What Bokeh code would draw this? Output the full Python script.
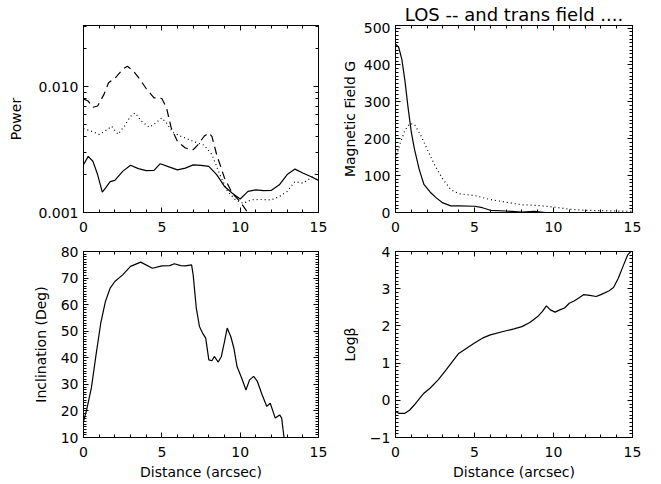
from bokeh.plotting import figure
from bokeh.models import (LinearAxis, LogAxis, FixedTicker,
                          CustomJSTickFormatter, Range1d)
from bokeh.layouts import column, row
from bokeh.embed import file_html
from bokeh.resources import INLINE

# ---------------- data ----------------
# Top-left: Power (log)
pw_solid_x = [0, 0.3, 0.6, 0.9, 1.2, 1.4, 1.7, 2.0, 2.5, 3.0, 3.5, 4.0, 4.5, 4.9, 5.5, 6.0, 6.5, 7.0,
              7.5, 8.0, 8.5, 9.0, 9.5, 10.0, 10.5, 11.0, 11.5, 12.0, 12.5, 13.0, 13.5, 14.0, 14.5, 15.0]
pw_solid_y = [0.00239, 0.00279, 0.00255, 0.0020, 0.00145, 0.00156, 0.00176, 0.0018, 0.00212, 0.00237,
              0.00223, 0.00215, 0.00216, 0.00244, 0.00229, 0.00218, 0.00225, 0.00239, 0.00237, 0.00232,
              0.0020, 0.00161, 0.00142, 0.00128, 0.00147, 0.00151, 0.00149, 0.0015, 0.00166, 0.0020,
              0.00221, 0.00206, 0.00193, 0.0018]
pw_dash_x = [0, 0.3, 0.6, 0.9, 1.3, 1.6, 2.0, 2.5, 2.8, 3.2, 3.6, 4.0, 4.5, 5.0, 5.3, 5.6, 6.0, 6.5,
             7.0, 7.3, 7.7, 8.0, 8.2, 8.5, 9.0, 9.5, 10.0, 10.5, 10.8]
pw_dash_y = [0.00798, 0.00767, 0.00684, 0.0070, 0.00862, 0.0107, 0.0116, 0.0137, 0.0145, 0.0132, 0.0114,
             0.00964, 0.00813, 0.00803, 0.00677, 0.00469, 0.00367, 0.00325, 0.00315, 0.00344, 0.00403,
             0.00428, 0.0040, 0.00288, 0.00188, 0.00142, 0.00122, 0.00099, 0.0008]
pw_dot_x = [0, 0.5, 1.0, 1.5, 1.8, 2.2, 2.6, 3.0, 3.3, 3.7, 4.2, 4.6, 5.0, 5.3, 5.7, 6.2, 7.0, 7.7,
            8.2, 8.7, 9.2, 9.7, 10.2, 10.7, 11.2, 12.0, 12.5, 13.0, 13.5, 14.0, 14.5, 15.0]
pw_dot_y = [0.00463, 0.00442, 0.00417, 0.00454, 0.00483, 0.00417, 0.00483, 0.0058, 0.00617, 0.00531,
            0.00475, 0.00513, 0.00563, 0.00513, 0.00433, 0.00404, 0.00367, 0.00342, 0.00288, 0.0020,
            0.00147, 0.00126, 0.00118, 0.00126, 0.00127, 0.00126, 0.00134, 0.00147, 0.00176, 0.00171,
            0.00188, 0.00212]

# Top-right: Magnetic field
los_x = [0, 0.2, 0.4, 0.6, 0.8, 1.0, 1.2, 1.5, 1.8, 2.2, 2.6, 3.0, 3.5, 4.0, 5.0, 5.5, 6.0, 7.0,
         8.0, 8.8, 9.5, 10.0, 11.0, 12.0, 13.0, 14.0]
los_y = [457, 448, 416, 356, 283, 218, 172, 117, 76, 55, 39, 26, 18, 18, 17, 13, 6, 4, 1, 3, 0, 0, 0, 0, 0, 0]
trans_x = [0, 0.3, 0.6, 0.9, 1.2, 1.6, 2.0, 2.5, 3.0, 3.5, 4.0, 5.0, 6.0, 7.0, 8.0, 9.0, 10, 11, 12, 13, 14, 15]
trans_y = [145, 188, 223, 241, 239, 209, 172, 127, 90, 62, 51, 46, 35, 28, 21, 19, 15, 9, 6, 5, 4, 3]

# Bottom-left: Inclination
inc_x = [0, 0.2, 0.5, 0.8, 1.1, 1.4, 1.7, 2.0, 2.5, 3.0, 3.65, 4.4, 5.0, 5.5, 5.8, 6.2, 6.5, 6.9, 7.0,
         7.2, 7.4, 7.6, 7.8, 8.0, 8.2, 8.35, 8.6, 8.8, 9.0, 9.17, 9.4, 9.6, 9.8, 10.1, 10.37, 10.6,
         10.86, 11.1, 11.4, 11.7, 11.92, 12.24, 12.52, 12.65, 12.8, 12.85]
inc_y = [16.0, 20.4, 28.6, 41.1, 53.0, 61.2, 66.2, 68.7, 71.2, 74.4, 76.0, 73.7, 74.6, 74.7, 75.4, 74.7,
         74.6, 75.0, 71.2, 58.7, 51.8, 49.3, 47.4, 39.2, 38.9, 40.5, 38.4, 40.5, 46.1, 51.2, 48.0, 43.6,
         36.7, 32.3, 27.9, 31.7, 33.0, 31.1, 26.1, 21.7, 22.9, 17.3, 18.5, 17.3, 10.0, 8.0]

# Bottom-right: Log beta
lb_x = [0, 0.2, 0.6, 0.9, 1.2, 1.5, 1.8, 2.2, 2.7, 3.2, 3.6, 4.0, 4.5, 5.0, 5.5, 6.0, 7.0, 7.5, 8.0,
        8.5, 9.0, 9.3, 9.55, 9.8, 10.1, 10.4, 10.7, 11.0, 11.3, 11.6, 11.9, 12.3, 12.7, 13.0, 13.5,
        13.8, 14.1, 14.4, 14.7, 14.9, 15.0]
lb_y = [-0.30, -0.35, -0.35, -0.26, -0.12, 0.04, 0.19, 0.33, 0.55, 0.82, 1.04, 1.26, 1.40, 1.54, 1.67,
        1.76, 1.87, 1.92, 1.98, 2.09, 2.25, 2.39, 2.54, 2.43, 2.37, 2.43, 2.48, 2.61, 2.67, 2.75, 2.84,
        2.82, 2.79, 2.84, 2.94, 3.03, 3.28, 3.60, 3.91, 4.00, 4.05]

x_major = [0, 5, 10, 15]
x_minor = list(range(0, 16))

FONT = "DejaVu Sans"
LW = 1.2


def style_axis(ax, labels=True, standoff=5):
    ax.axis_line_color = "black"
    ax.axis_line_width = 1
    ax.major_tick_in = 5
    ax.major_tick_out = 0
    ax.minor_tick_in = 3
    ax.minor_tick_out = 0
    ax.major_tick_line_color = "black"
    ax.minor_tick_line_color = "black"
    ax.major_label_text_font = FONT
    ax.major_label_text_color = "black"
    ax.axis_label_text_font = FONT
    ax.axis_label_text_font_style = "normal"
    ax.axis_label_text_font_size = "14px"
    ax.axis_label_text_color = "black"
    if labels:
        ax.major_label_text_font_size = "14px"
        ax.major_label_standoff = standoff
    else:
        ax.major_label_text_font_size = "1px"
        ax.major_label_standoff = 0
        ax.formatter = CustomJSTickFormatter(code="return '';")


def make_fig(y_range, y_type, left, right, top, bottom, fw, fh, yticker, ylabel, xlabel=None,
             title=None, log=False):
    kw = {}
    if title:
        kw["title"] = title
    p = figure(x_range=Range1d(0, 15), y_range=y_range, y_axis_type=y_type,
               frame_width=fw, frame_height=fh, min_border_left=left, min_border_right=right,
               min_border_top=top, min_border_bottom=bottom, toolbar_location=None,
               output_backend="svg", **kw)
    p.grid.visible = False
    p.outline_line_color = "black"
    p.background_fill_color = "white"
    p.border_fill_color = "white"
    p.xaxis.ticker = FixedTicker(ticks=x_major, minor_ticks=x_minor)
    p.yaxis.ticker = yticker
    style_axis(p.xaxis[0], True, 9)
    style_axis(p.yaxis[0], True, 5)
    p.yaxis.axis_label = ylabel
    p.yaxis.axis_label_standoff = 9
    if xlabel:
        p.xaxis.axis_label = xlabel
        p.xaxis.axis_label_standoff = 4
    top_ax = LinearAxis(ticker=FixedTicker(ticks=x_major, minor_ticks=x_minor))
    style_axis(top_ax, False)
    p.add_layout(top_ax, "above")
    right_ax = LogAxis(ticker=yticker) if log else LinearAxis(ticker=yticker)
    style_axis(right_ax, False)
    p.add_layout(right_ax, "right")
    return p


# Top-left
tl_ticker = FixedTicker(ticks=[0.001, 0.01],
                        minor_ticks=[0.002, 0.003, 0.004, 0.005, 0.006, 0.007, 0.008, 0.009, 0.02, 0.03])
p1 = make_fig(Range1d(0.001, 0.0305), "log", 83, 17, 24, 29, 235, 187, tl_ticker, "Power", log=True)
p1.yaxis[0].formatter = CustomJSTickFormatter(code="return tick.toFixed(3);")
p1.yaxis.axis_label_standoff = 11
p1.line(pw_solid_x, pw_solid_y, line_color="black", line_width=LW)
p1.line(pw_dash_x, pw_dash_y, line_color="black", line_width=LW, line_dash="8 5")
p1.line(pw_dot_x, pw_dot_y, line_color="black", line_width=LW, line_dash="1 3")

# Top-right
p2 = make_fig(Range1d(0, 507), "linear", 60, 29, 24, 29, 237, 187,
              FixedTicker(ticks=[0, 100, 200, 300, 400, 500], minor_ticks=list(range(0, 510, 10))),
              "Magnetic Field G", title="LOS -- and trans field ....")
p2.yaxis.axis_label_standoff = 3
p2.title.align = "center"
p2.title.text_font = FONT
p2.title.text_font_size = "18px"
p2.title.text_font_style = "normal"
p2.title.text_color = "black"
p2.title.standoff = 2
p2.line(los_x, los_y, line_color="black", line_width=LW)
p2.line(trans_x, trans_y, line_color="black", line_width=LW, line_dash="1 3")

# Bottom-left
p3 = make_fig(Range1d(10, 80), "linear", 83, 17, 10, 48, 235, 186,
              FixedTicker(ticks=list(range(10, 90, 10)), minor_ticks=list(range(10, 81))),
              "Inclination (Deg)", xlabel="Distance (arcsec)")
p3.line(inc_x, inc_y, line_color="black", line_width=LW)

# Bottom-right
p4 = make_fig(Range1d(-1, 4), "linear", 60, 29, 10, 48, 237, 186,
              FixedTicker(ticks=[-1, 0, 1, 2, 3, 4], minor_ticks=[i / 10 for i in range(-10, 41)]),
              "Logβ", xlabel="Distance (arcsec)")
p4.line(lb_x, lb_y, line_color="black", line_width=LW)

layout = column(row(p1, p2), row(p3, p4))
open("out.html", "w").write(file_html(layout, INLINE))
